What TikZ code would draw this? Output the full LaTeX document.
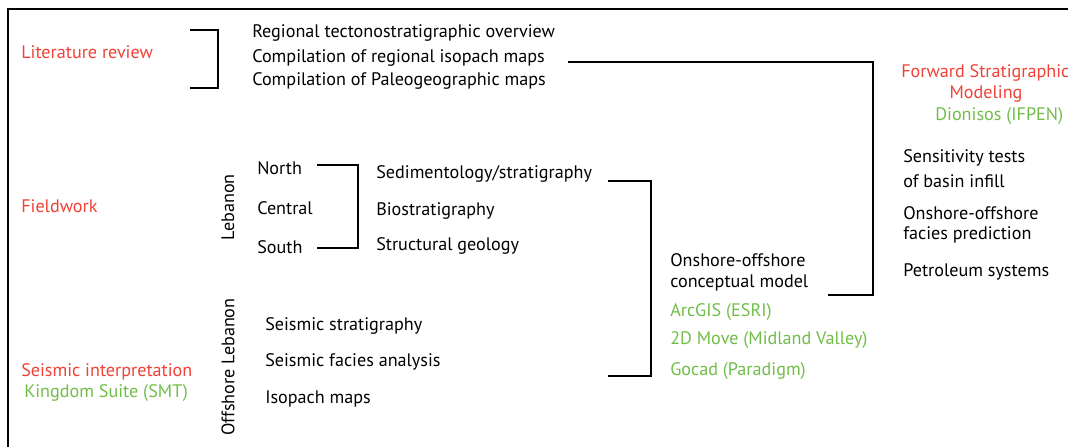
\documentclass[tikz,border=0pt]{standalone}
\usepackage{fontspec}
\setmainfont{PT Sans}
\usetikzlibrary{positioning}
\definecolor{taskred}{RGB}{239,65,54}
\definecolor{toolgreen}{RGB}{112,190,72}

\begin{document}
\begin{tikzpicture}[x=0.025cm,y=-0.025cm,every node/.style={anchor=west,inner sep=0pt,yshift=-1.5pt,font=\fontsize{12.9}{15}\selectfont},task/.style={text=taskred},tool/.style={text=toolgreen},country/.style={rotate=90,anchor=center,yshift=0pt},bracket/.style={line width=1pt}]
\useasboundingbox (0,0) rectangle (1068,447);
\draw[line width=0.8pt] (8,447) -- (8,9) -- (1068,9);
% literature
  \node[task] (lit) at (21,50) {Literature review};
  \node (over) at (252,31) {Regional tectonostratigraphic overview};
  \node (iso) at (252,56) {Compilation of regional isopach maps};
  \node (paleo) at (252,79) {Compilation of Paleogeographic maps};
% forward modeling
  \node[task] (fsm) at (901,71) {Forward Stratigraphic};
  \node[task,anchor=center] (model) at (986,92) {Modeling};
  \node[tool] (dion) at (935,114) {Dionisos (IFPEN)};
  \node (sens) at (903,156) {Sensitivity tests};
  \node (infill) at (903,179) {of basin infill};
  \node (onoff) at (903,211) {Onshore-offshore};
  \node (facies) at (903,233) {facies prediction};
  \node (petro) at (903,270) {Petroleum systems};
% fieldwork
  \node[task] (field) at (21,204) {Fieldwork};
  \node[country] (leb) at (228,205) {Lebanon};
  \node (north) at (257,166) {North};
  \node (central) at (257,206) {Central};
  \node (south) at (257,245) {South};
  \node (sed) at (376,172) {Sedimentology/stratigraphy};
  \node (bio) at (376,209) {Biostratigraphy};
  \node (struct) at (376,244) {Structural geology};
% conceptual model
  \node (concept) at (670,258) {Onshore-offshore};
  \node (cmodel) at (670,281) {conceptual model};
  \node[tool] (arcgis) at (670,310) {ArcGIS (ESRI)};
  \node[tool] (move) at (670,338) {2D Move (Midland Valley)};
  \node[tool] (gocad) at (670,369) {Gocad (Paradigm)};
% seismic
  \node[task] (seis) at (21,370) {Seismic interpretation};
  \node[tool] (kingdom) at (24,391) {Kingdom Suite (SMT)};
  \node[country] (offleb) at (228,365) {Offshore Lebanon};
  \node (sstrat) at (265,324) {Seismic stratigraphy};
  \node (sfac) at (265,360) {Seismic facies analysis};
  \node (smaps) at (265,397) {Isopach maps};
% bracket ends
  \coordinate (b1a) at (190,28); \coordinate (b1b) at (190,86); \coordinate (b1r) at (218,28);
  \coordinate (b2a) at (317,163); \coordinate (b2b) at (317,246); \coordinate (b2r) at (358,163);
  \coordinate (b3a) at (608,179); \coordinate (b3b) at (608,374); \coordinate (b3r) at (651,179);
  \coordinate (b4a) at (568,60); \coordinate (b4b) at (828,293); \coordinate (b4r) at (873,60);
  \draw[bracket](b1a)--(b1r)|-(b1b);
  \draw[bracket](b2a)--(b2r)|-(b2b);
  \draw[bracket](b3a)--(b3r)|-(b3b);
  \draw[bracket](b4a)--(b4r)|-(b4b);
\end{tikzpicture}
\end{document}
